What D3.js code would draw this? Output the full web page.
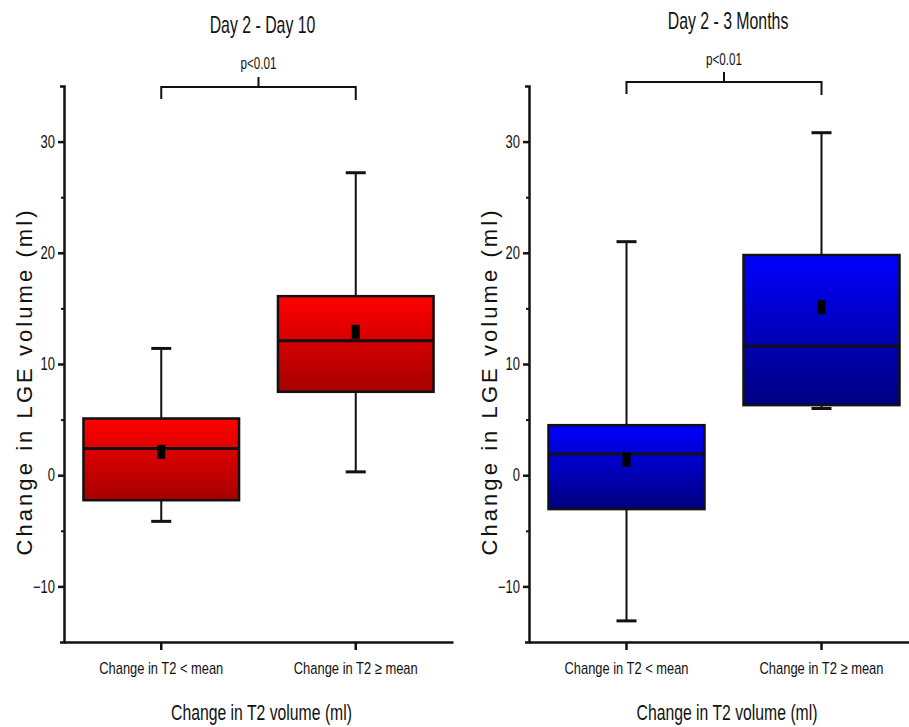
<!DOCTYPE html>
<head>
    <meta charset="utf-8">
    <title>LGE volume change by T2 change</title>
    <style>
        body { margin: 0; background: #fff; }
        text { font-family: "Liberation Sans", Arial, sans-serif; fill: #111; }
        .tick text { font-size: 18px; }
        .xaxis .tick text { font-size: 17px; }
        text.title { font-size: 24px; }
        text.ptext { font-size: 16px; }
        text.xlabel { font-size: 22px; }
        text.ylabel { font-size: 22px; }
        .domain, .tick line { stroke: #111; stroke-width: 2.5px; }
        .minor .tick line { stroke-width: 2px; }
    </style>
    <script src="https://cdn.jsdelivr.net/npm/d3@7"></script>
</head>
<body>
    <script>
        // data
        var categories = ["Change in T2 < mean", "Change in T2 \u2265 mean"];
        var panelTitles = ["Day 2 - Day 10", "Day 2 - 3 Months"];
        var yTicks = [-10, 0, 10, 20, 30];
        var yMinorTicks = [-5, 5, 15, 25];

        // [whiskerLow, q1, median, q3, whiskerHigh, mean]
        var day10Low  = [-4.15, -2.25, 2.4, 5.1, 11.4, 2.1];
        var day10High = [0.3, 7.5, 12.1, 16.1, 27.2, 12.9];
        var month3Low  = [-13.1, -3.05, 1.9, 4.5, 21.0, 1.4];
        var month3High = [6.0, 6.3, 11.6, 19.8, 30.8, 15.1];

        var width = 909, height = 727;
        var top_ = 86, bottom = 642;

        // narrow look of the original font: squeeze glyphs horizontally
        function condense(sel, f) {
            sel.each(function () {
                var t = d3.select(this);
                t.attr("textLength", this.getComputedTextLength() * f)
                 .attr("lengthAdjust", "spacingAndGlyphs");
            });
        }

        var svg = d3.select("body").append("svg")
            .attr("width", width)
            .attr("height", height);

        var defs = svg.append("defs");
        function grad(id, c1, c2) {
            var g = defs.append("linearGradient").attr("id", id)
                .attr("x1", 0).attr("y1", 0).attr("x2", 0).attr("y2", 1);
            g.append("stop").attr("offset", "0%").attr("stop-color", c1);
            g.append("stop").attr("offset", "100%").attr("stop-color", c2);
        }
        grad("redGrad", "#ff0000", "#a50000");
        grad("blueGrad", "#0000ff", "#000080");

        var panels = [
            { title: panelTitles[0], left: 64, right: 453, boxes: [day10Low, day10High], fill: "url(#redGrad)", titleY: 33, bracketY: 87, pY: 69, ylabelX: 32 },
            { title: panelTitles[1], left: 529, right: 919, boxes: [month3Low, month3High], fill: "url(#blueGrad)", titleY: 29, bracketY: 82, pY: 65, ylabelX: 497 }
        ];

        var y = d3.scaleLinear().domain([-15, 35]).range([bottom, top_]);

        panels.forEach(function (p) {
            var x = d3.scaleBand().domain(categories).range([p.left, p.right]);
            var g = svg.append("g");
            var bw = x.bandwidth() * 0.8;

            // y axis
            g.append("g")
                .attr("transform", "translate(" + p.left + ",0)")
                .call(d3.axisLeft(y).tickValues(yTicks).tickSize(6).tickSizeOuter(4).tickPadding(3))
                .selectAll(".tick text").call(condense, 0.72);
            g.append("g").attr("class", "minor")
                .attr("transform", "translate(" + p.left + ",0)")
                .call(d3.axisLeft(y).tickValues(yMinorTicks).tickSize(3).tickFormat(""))
                .select(".domain").remove();

            // x axis
            g.append("g").attr("class", "xaxis")
                .attr("transform", "translate(0," + bottom + ")")
                .call(d3.axisBottom(x).tickSize(8).tickSizeOuter(0).tickPadding(12))
                .selectAll(".tick text").attr("textLength", 124).attr("lengthAdjust", "spacingAndGlyphs");

            var box = g.selectAll(".box")
                .data(p.boxes)
                .enter().append("g")
                .attr("class", "box")
                .attr("transform", function (d, i) { return "translate(" + (x(categories[i]) + x.bandwidth() / 2) + ",0)"; });

            // whiskers
            box.append("line")
                .attr("y1", function (d) { return y(d[0]); })
                .attr("y2", function (d) { return y(d[4]); })
                .attr("stroke", "#111").attr("stroke-width", 2);
            box.selectAll(".cap")
                .data(function (d) { return [d[0], d[4]]; })
                .enter().append("line")
                .attr("x1", -10).attr("x2", 10)
                .attr("y1", function (v) { return y(v); })
                .attr("y2", function (v) { return y(v); })
                .attr("stroke", "#111").attr("stroke-width", 3);

            box.append("rect")
                .attr("x", -bw / 2)
                .attr("width", bw)
                .attr("y", function (d) { return y(d[3]); })
                .attr("height", function (d) { return y(d[1]) - y(d[3]); })
                .attr("fill", p.fill)
                .attr("stroke", "#111").attr("stroke-width", 2.5);

            box.append("line")
                .attr("x1", -bw / 2).attr("x2", bw / 2)
                .attr("y1", function (d) { return y(d[2]); })
                .attr("y2", function (d) { return y(d[2]); })
                .attr("stroke", "#111").attr("stroke-width", 3);

            box.append("rect")
                .attr("x", -4).attr("width", 8)
                .attr("y", function (d) { return y(d[5]) - 7; })
                .attr("height", 14)
                .attr("fill", "#000");

            // significance bracket
            var x1 = x(categories[0]) + x.bandwidth() / 2,
                x2 = x(categories[1]) + x.bandwidth() / 2,
                xm = (x1 + x2) / 2;
            g.append("path")
                .attr("d", "M" + x1 + "," + (p.bracketY + 12) + "V" + p.bracketY + "H" + x2 + "V" + (p.bracketY + 13) +
                    "M" + xm + "," + p.bracketY + "V" + (p.bracketY - 10))
                .attr("fill", "none").attr("stroke", "#111").attr("stroke-width", 2);
            g.append("text").attr("class", "ptext")
                .attr("x", xm).attr("y", p.pY)
                .attr("text-anchor", "middle")
                .attr("textLength", 36).attr("lengthAdjust", "spacingAndGlyphs")
                .text("p<0.01");

            g.append("text").attr("class", "title")
                .attr("x", xm + 4).attr("y", p.titleY)
                .attr("text-anchor", "middle")
                .text(p.title)
                .call(condense, 0.66);

            g.append("text").attr("class", "xlabel")
                .attr("x", xm + 3).attr("y", 720)
                .attr("text-anchor", "middle")
                .attr("textLength", 181).attr("lengthAdjust", "spacingAndGlyphs")
                .text("Change in T2 volume (ml)");

            g.append("text").attr("class", "ylabel")
                .attr("transform", "translate(" + p.ylabelX + ",383) rotate(-90)")
                .attr("text-anchor", "middle")
                .attr("textLength", 345)
                .attr("lengthAdjust", "spacing")
                .text("Change in LGE volume (ml)");
        });
    </script>
</body>
